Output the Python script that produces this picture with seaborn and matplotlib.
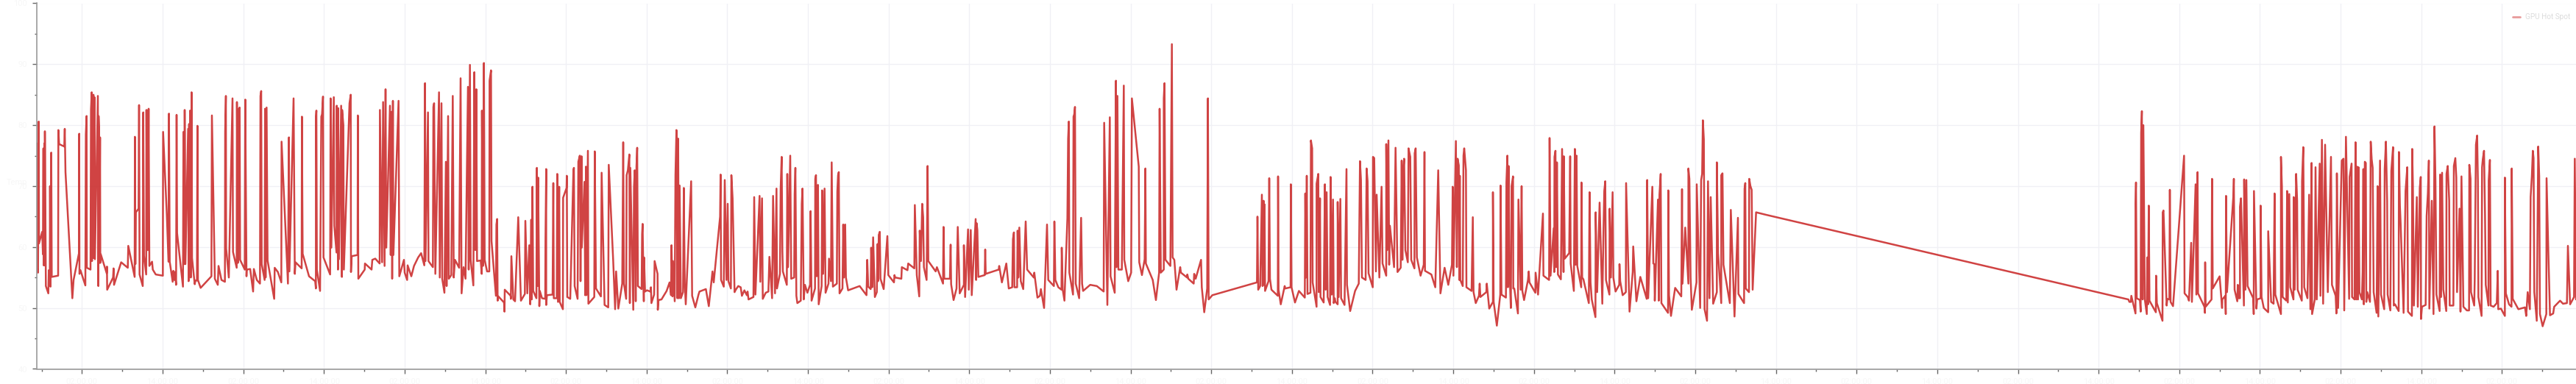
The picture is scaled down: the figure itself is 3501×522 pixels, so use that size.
import numpy as np
import pandas as pd
import matplotlib
matplotlib.use("Agg")
import matplotlib.pyplot as plt
import seaborn as sns

session_starts = [0, 1200, 2100, 3000, 3900, 5100, 6000, 8640, 9600]

t_a = [151,151,155,158,159,172,175,177,178,181,182,183,187,197,199,203,204,206,209,211,
237,238,241,262,264,267,295,300,322,323,324,328,348,350,353,354,369,371,374,375,
381,382,385,387,399,401,402,404,405,408,409,411,435,436,437,461,463,465,494,521,
523,549,550,552,554,565,567,569,582,584,587,596,597,600,602,603,606,609,620,623,
635,664,665,680,687,689,692,704,707,711,713,718,720,722,746,748,752,753,756,767,
769,771,773,775,778,781,783,794,797,803,805,807,818,862,864,876,888,891,903,917,
918,921,922,933,948,950,965,966,970,972,977,979,998,1000,1005,1006,1020,1032,1035,1047,
1060,1062,1065,1067,1079,1081,1083,1087,1091,1118,1120,1133,1147,1148,1174,1178,1180,1197]
v_a = [77,56.8,55.8,80.6,60.6,62.5,58.8,76.2,57,77,57,79,53.6,52.4,56.2,54.6,70,53.5,75.5,55.1,
55.3,79.2,76.9,76.5,79.4,72.3,51.6,54.6,59,78.6,55.6,56.2,53.7,78.5,81.5,56.6,56.3,82.6,85.4,57.7,
85,58.2,84.6,58,84.8,53.6,81.5,79.2,57.4,78,57.4,58.8,55.7,56.8,53,55,56.5,53.8,57.5,56.6,
60.2,55.1,78.1,57.2,65.7,66.3,83.3,55.5,53.6,82.1,58.6,55.5,82.5,59.5,82.4,59.5,82.7,56.9,57.6,56.3,
55.5,55.3,78.9,65.5,57.6,81.9,57.6,54.3,56.1,54.6,55.9,53.8,81.7,62.3,53.5,78.9,57.2,82.5,57.2,79.4,
54.4,80.2,61.7,82.4,55,85.4,58.2,53.9,54.5,54.5,79.9,54.6,53.3,55.2,81.6,54.8,53.8,56.9,54.6,54.3,
78.9,84.8,59.8,55,84.4,59.2,56.6,83.8,57.4,82.5,82.9,57.9,56.3,84.2,55.2,56.3,56.4,52.7,56.4,54.6,
54,84.8,85.6,57.2,54.6,82.7,55,82.9,57.8,51.5,56.6,55.9,54.2,77.3,54,78,56,84.4]

t_b = [2,5,30,31,34,60,85,88,88,90,92,105,110,113,117,119,146,148,151,161,
163,172,173,178,179,182,191,194,195,200,202,225,230,231,234,258,259,261,287,288,
315,318,330,348,349,358,362,368,372,375,390,393,397,399,402,404,425,428,447,450,
460,462,477,488,505,517,530,533,535,545,547,565,567,570,575,590,593,600,603,612,
618,621,627,630,640,646,650,655,672,678,682,690,698,708,711,716,719,730,734,738,
742,745,760,764,765,769,773,776,786,795,796,802,804,822,824,827,829,832,855,857,
858,882,883,885,893,900]
v_b = [55.6,57.5,56.5,81.4,58.9,55.2,54.4,53.2,81.2,82.4,56.3,52.8,81.4,81.8,84.7,58.3,55.5,84.4,59.9,84.6,
63.5,59.1,83.2,56.3,82.8,58,83.2,55.1,82.5,80,56.3,83.6,85,55.9,58.5,58.7,81.6,54.8,56.3,57.3,
56.3,57.9,58.1,57.3,82.5,57.5,83.8,56.9,85.9,59.9,83.2,58.7,82.2,54.8,84,58.7,84,55.2,57.9,55.8,
54.6,57,55.2,56.9,58.3,59,57,86.9,57.7,82.1,57.7,56.7,83,83.6,55.6,85.4,55,83.6,54.8,52.5,
74,53.6,81.5,54.8,55.4,84.8,55,57.9,56.6,87.7,52.4,56.7,54.8,86.3,56.3,89.9,57.9,53.7,88.7,59.5,
85.9,57.7,57.8,55.6,82.4,56.9,90.2,57.9,56,56,87.3,89,61,52,63.7,64.6,51.2,51.9,50.9,49.4,
53,52,51.5,58.5,51.4,51.1]

t_c = [10,13,24,40,42,50,58,62,66,68,71,74,87,89,92,94,99,101,110,123,
124,127,127,130,153,156,158,170,172,175,180,182,195,196,210,211,213,225,238,240,
243,255,258,264,267,271,272,283,286,289,291,297,299,323,325,330,350,353,365,380,
382,400,408,412,421,437,441,444,453,455,460,466,468,470,482,485,488,492,495,498,
501,516,518,520,525,526,530,538,552,554,556,567,569,581,582,585,597,618,630,636,
638,642,644,651,654,658,662,665,668,671,676,685,688,692,696,716,718,722,735,748,
752,778,790,805,810,836,838,840,851,855,862,867,870,880,882,887,895,900]
v_c = [61.7,64.9,51.2,52.3,64.3,52.4,60.3,50.6,64.5,51.4,69.9,52.8,51.6,73,53.6,71.4,50.3,52.8,51.6,51.5,
60.9,72.8,50.5,52.1,52.2,70.5,51.6,51.6,72,51,69.9,51,49.8,68.1,69.7,71.7,51.8,51.5,72.6,73,
53.6,51.5,74,75,54.4,74.9,59.9,70.7,52.1,73.2,52.1,75.8,50.7,51.8,75.7,53.2,51.9,72.2,50.5,50.1,
73.5,57.9,49.8,56,49.9,54,77.2,54,51.5,71.8,72.6,75.2,50.8,73,49.7,69.9,72.6,51.1,73.2,76.3,
53.6,53.1,62.1,63.8,51.1,58.3,52.7,52.9,52.7,53.4,50.8,52.2,57.7,55.6,49.7,51.3,51.4,52.8,54.2,52.1,
60.3,51.9,57.7,51.1,71.8,79.2,51.6,77.8,51.6,70.1,51.6,52.6,69.7,54,50.6,69.1,70.8,52,50.1,52.2,
52.7,53.1,50.3,56,54.2,65,71.9,54.6,53.5,71,54.6,67.1,54.4,53.2,71.8,68,52.6,53]

t_d = [10,20,25,35,45,48,52,72,75,80,97,100,107,110,122,133,137,148,152,160,
166,168,180,183,187,190,192,208,210,213,222,226,238,240,243,247,251,265,269,272,
277,282,292,303,305,309,323,324,327,330,335,338,350,352,356,362,366,378,380,388,
391,396,412,414,417,420,423,435,438,441,446,449,458,505,533,536,540,550,552,556,
560,567,575,578,580,583,587,590,603,618,622,645,647,650,675,677,700,703,728,730,
738,748,750,755,760,764,767,778,782,785,815,820,845,847,850,873,876,878,888,900]
v_d = [53.6,53.4,52,52.9,52.1,52.7,51.4,51.8,68.2,52.2,68.4,54.3,68,51.5,52.5,52.7,58.4,51.6,68.4,52.4,
69.6,53.2,55.6,69.7,74.8,59.3,56,53.8,72,56.7,75,54.8,55,68.7,73,52,50.8,51.2,67.1,69.6,
51.4,53.8,52.5,53.8,65.9,51.2,53.2,71.2,71.8,55.2,70.2,50.6,53.6,69.3,55.6,69.6,52.5,54,58.1,54.4,
73.9,53.5,54,69.1,71.8,72.3,52.4,53.2,63.7,55,63.7,55,52.9,53.6,52.1,57.9,53.5,53.1,59.9,53.4,
61.6,51.8,52.6,60.5,54.4,62,62.5,54.8,53.1,61.8,55.4,54.2,55.4,55,54.8,56.7,56.2,57.3,56.5,66.9,
55.4,51.9,62.7,57.7,67.1,64.9,56.7,54.6,73.3,57.7,56,56.7,54,63.3,54.8,54.8,60.4,53.9,51.3,53.2]

t_e = [5,13,30,30,35,47,50,58,62,78,80,82,85,89,115,117,119,172,174,185,
203,213,227,230,234,236,247,249,252,256,262,272,282,288,315,317,330,340,344,357,
369,374,397,399,403,415,428,429,433,440,452,455,458,460,475,477,480,483,486,500,
508,512,516,545,572,600,602,615,625,628,645,650,652,656,660,674,682,684,700,712,
715,743,745,756,767,770,772,800,813,826,828,833,845,845,848,852,872,878,881,888,
897,912,915,940,941,945,967,969,975,997,1000,1010,1022,1025,1028,1043,1200]
v_e = [63.3,52.4,53.8,60.3,51.8,62.9,53,62.8,52.1,64.6,54.6,63.9,62.8,55.1,55.4,59.6,55.6,56.3,56.9,54.2,
57.3,53.2,53.4,61.3,62.4,53.4,53.4,62.7,55,63.2,54.4,53.1,64.2,56.3,55,55.8,51.7,52,53.1,50,
63.7,54.6,53.6,64.2,54.6,53.4,53,59.9,53,51.2,64.7,77.8,80.6,55.8,52.2,81.4,81.8,83,54,51.6,
64.8,54,52.8,53.8,53.6,52.7,80.4,50.5,81.3,55.2,52.5,87.3,56.7,84.8,56.3,56.3,86.5,57.9,54.4,55.8,
84.4,73.2,57.5,55.4,58,72.9,57.3,54.6,51.3,55.8,82.7,55.8,56.3,84.4,86.9,57.9,56.9,93.3,58.3,57.9,
53,56.7,55.8,55,55.5,54.8,54,55.6,54.8,57.9,53.4,49.3,53.2,84.4,51.4,52.1,53.9]

t_f = [25,27,30,38,45,48,52,53,56,58,72,75,78,84,110,111,113,122,138,140,
162,163,166,180,196,220,222,225,228,231,243,245,250,252,268,268,275,277,282,284,
297,302,305,309,313,323,325,330,335,338,342,345,354,354,358,365,368,382,390,392,
405,425,440,445,449,453,468,472,476,480,497,498,503,510,513,524,533,537,552,552,
556,561,564,567,584,590,598,611,615,618,622,625,630,640,643,650,654,667,668,672,
677,692,705,708,710,736,752,764,773,790,805,820,823,826,836,840,843,848,850,852,
854,864,867,870,877,879,900]
v_f = [54.2,65,53,53.6,68.6,53.6,67.6,53.8,67,52.8,54.4,71.3,54.8,53,52,71.6,53,50.6,53.6,53.2,
53.4,70.3,53.4,50.9,52.8,51.7,68.8,55,71.7,52.3,52.5,77.5,76.2,54.2,50.2,70.4,72,52.6,68,51.8,
50.9,70.3,53,69,51.8,50.5,71.5,52.2,67.8,50.8,51.6,51,50.6,67.4,51.8,67.9,51.6,50.5,72.8,53.8,
49.5,52.8,54,74.1,71,55,54.6,72.9,70.8,55.7,53.4,74.8,74.6,56,68.6,55,69.9,57.3,55.3,76.9,
59.5,77.5,57.1,63.5,56.7,76.3,55.9,56.6,74.2,57.9,72.6,74.5,59.5,57.5,76.2,74.8,57.9,56.5,75.4,76.2,
58.3,55.3,57.1,75.6,56.1,55.5,53.4,72.6,52.4,56.6,53.8,57.1,69.9,55.3,77.4,56.7,74.5,73.4,54.6,71.7,
54.6,53.6,75,76.2,72.6,53.4,52.8]

t_g = [5,8,17,30,33,36,60,62,72,87,87,90,103,117,118,122,140,142,146,148,
151,154,160,163,169,170,174,189,191,200,204,207,214,230,233,236,260,261,271,291,
293,316,318,322,335,337,338,342,345,348,352,364,369,375,376,380,398,402,404,417,
421,424,428,431,447,448,451,456,478,481,485,490,505,506,512,522,533,538,541,545,
548,562,563,568,575,578,587,602,603,606,616,629,630,644,657,659,672,688,714,716,
720,737,741,745,747,760,763,766,771,774,801,802,805,813,830,855,858,860,871,884,
884,888,893,898,917,918,932,936,940,943,947,950,960,964,970,975,985,1000,1000,1005,
1018,1018,1023,1027,1053,1057,1072,1086,1088,1111,1113,1116,1118,1131,1132,1137,1142,1146,1160,1200]
v_g = [64.9,52.6,50.8,52,54,51.8,52.6,54,49.9,51,69,51,47.1,52.2,70.1,52.2,51.7,70.6,75,53.4,
73.3,57.3,50,70,71.6,53.2,53.2,49.1,67.8,53,70,52.8,51.3,54.6,56,54.2,52.5,55.8,52.2,65.5,
55.3,54.6,77.9,55.3,63.1,55.9,74.8,75.8,56.7,73.9,55.5,54.7,76.1,55.9,74.9,58.1,59,74.9,57.3,52.8,
76.1,57.1,75,56.9,53.4,70.6,55,54.7,50.8,69,54.2,51.4,48.5,65.7,52.6,67.3,50.7,63,69.2,70.8,
54.6,52.2,66.3,55,69,55,52.7,53.8,57.2,54.4,52.1,52.6,70.5,49.4,55.9,60.1,51.1,55.1,51.5,71,
51.6,69.9,57.3,57.2,51.2,67.8,51.2,68.6,72,50.8,49.2,69.3,52.1,48.7,53.3,51.9,69.5,54,63.2,54,
72.9,71.2,55,49.7,54.2,70.3,50,71,72,80.8,77.7,49.8,47.9,70.8,51.6,68.2,50.7,52.6,73.9,59,
50.8,71.8,72.1,57.1,50.8,66.1,48.6,64.8,52.3,50.8,69.6,70.5,53.2,52.6,71.2,70,69.4,53,65.7,65.3]

t_h = [38,42,48,50,67,67,69,72,85,88,90,93,96,99,105,113,115,118,121,124,
150,151,154,177,178,181,194,197,205,207,210,220,265,267,280,285,287,294,297,312,
315,320,322,348,350,351,353,377,379,382,410,420,421,433,435,436,440,466,468,471,
482,484,487,493,493,497,509,510,515,519,524,547,549,550,560,563,577,577,581,590,
608,608,620,630,634,637,660,660,664,667,682,685,688,694,698,711,712,716,722,726,
728,745,746,751,755,768,775,780,785,787,798,801,806,818,821,827,832,840,851,864,
868,883,886,888,893,908,915,918,925,938,940,948,950,960]
v_h = [51.4,51,51,52,49.1,67.1,70.6,51.6,51.3,49.4,78.7,82.3,51.4,80,51.4,49,58.3,50.6,66.8,51.2,
49.3,55.3,50.8,47.9,65.7,66,50.4,51.5,51.4,69.4,51,50.3,75,52.4,51.8,51.2,53.2,60.7,51,70.3,
52.2,72.3,52.4,50.2,49.2,57.5,50.2,51.4,71.2,53.2,55.2,50,51.4,52,49,68.4,52.6,68.4,71.2,53,
51.1,53.8,51.6,51.6,66.6,68,50.4,71.1,53,71,53.6,51.6,49,69.2,49.9,51.4,51.6,66.8,51.8,50,
49.3,62.6,51,50.7,68.8,52.2,49,74.8,69.9,51.8,51.2,69.2,50.9,68.7,53.4,51.4,68.2,53,72,67.6,
53,51.2,70.8,76.4,53.4,51.6,68.6,49.8,73.8,49,51.4,73.1,51.4,73.7,52,77.6,50.7,76.8,52.6,74.8,
53.8,52,49.1,72.1,50,74.2,74.5,49.6,78.1,51.5,71.5,73.7,51.8,51.4]

t_i = [4,7,10,14,16,20,30,33,36,38,42,46,48,52,63,66,70,74,78,90,
94,97,104,108,121,123,128,133,135,146,150,157,160,165,180,181,185,188,200,208,
215,218,234,235,238,242,254,258,266,270,271,275,290,294,299,303,305,315,322,326,
330,334,347,349,353,357,362,374,375,380,386,388,403,405,411,415,418,428,432,436,
441,444,458,467,468,473,475,488,490,495,500,503,505,518,520,523,528,532,535,546,
547,552,555,567,580,584,586,597,613,613,617,630,640,641,645,668,695,700,706,715,
718,723,727,730,733,743,749,753,756,767,782,783,790,797,810,814,838,850,866,870,
879,895,898,903]
v_i = [77.2,51.4,73.2,51.4,73.1,52.6,51.4,55.9,72.8,50.6,74,73.8,51,52.6,51,77.3,74.4,73,52.6,49.2,
70,48.6,74.2,52.2,49.8,72.8,77.3,67.6,52.2,49.6,72.5,76.4,50.4,50.6,49.5,75.6,66.8,63.9,49.2,69.2,
73.1,49.4,48.7,76.1,70.2,50.4,68.2,50.2,69.7,71.5,48.2,50.2,50.5,65.1,68.8,74.2,49.9,67.6,49,79.8,
70.8,52.2,49.5,71.9,51.8,72.2,53,49.5,72,73.3,67.6,50.4,50.4,73.3,74.6,71.4,52.6,66.3,49.4,71.6,
58,50.2,49.6,49.6,73.5,71.2,52.6,50.4,54.6,76.8,78.3,70.8,51.8,48.7,73.1,74.4,75.8,65.4,53.8,50.4,
70.9,74.3,50.4,50.2,50.8,56.1,49.8,49.9,48.7,71.4,52.4,50.6,50.2,72.9,51.5,49.8,50.1,48.7,52.6,49.8,
68.2,71.6,75.8,74.6,52.6,47.9,76.5,71.6,49,47,49,71.3,59.5,48.8,49.1,50.2,51.2,50.7,50.8,60.2,
50.6,51.8,74.5,51.4]

elapsed = [t_a, t_b, t_c, t_d, t_e, t_f, t_g, t_h, t_i]
temps = [v_a, v_b, v_c, v_d, v_e, v_f, v_g, v_h, v_i]
series_name = "GPU Hot Spot"
y_major = [40, 50, 60, 70, 80, 90, 100]
x_labels = ["02:00:00", "14:00:00", "02:00:00", "14:00:00"]

time = np.concatenate([s + np.array(t, dtype=float) for s, t in zip(session_starts, elapsed)])
temp = np.concatenate([np.array(v, dtype=float) for v in temps])
df = pd.DataFrame({"time": time, "temp": temp, "series": series_name})

sns.set_theme(style="white")
plt.rcParams["font.family"] = ["Roboto", "DejaVu Sans"]

W, H = 3501, 522
fig = plt.figure(figsize=(W / 100, H / 100), dpi=100, facecolor="white")
ax = fig.add_axes([49.5 / W, (H - 501.5) / H, (W - 49.5) / W, (501.5 - 4.5) / H])

sns.lineplot(data=df, x="time", y="temp", hue="series", palette=["#cc3333"], sort=False,
             estimator=None, errorbar=None, lw=1.8, alpha=0.92, ax=ax)

ax.set_xlim(148.5, 10503)
ax.set_ylim(y_major[0], y_major[-1])

major_x = np.arange(334, 10503, 328.9)
minor_x = np.arange(334 - 164.45, 10503, 328.9)
ax.set_xticks(major_x)
ax.set_xticks(minor_x, minor=True)
ax.set_xticklabels([x_labels[i % 4] for i in range(len(major_x))], color="#f7f7f7", fontsize=8)
ax.set_yticks(y_major)
ax.set_yticks(np.arange(45, 100, 10), minor=True)
ax.set_yticklabels([str(v) for v in y_major], color="#f7f7f7", fontsize=8)
ax.tick_params(axis="both", which="major", length=4, width=1, color="#666666", left=True, bottom=True, pad=5)
ax.tick_params(axis="both", which="minor", length=2.4, width=1, color="#666666", left=True, bottom=True)
ax.grid(True, which="major", color="#f0f0f5", lw=1)
ax.set_axisbelow(True)
for side in ("top", "right"):
    ax.spines[side].set_visible(False)
for side in ("left", "bottom"):
    ax.spines[side].set_color("#9a9a9a")
    ax.spines[side].set_linewidth(1.2)
ax.set_xlabel("")
ax.set_ylabel("Temp", rotation=0, color="#f7f7f7", fontsize=8)
ax.yaxis.set_label_coords(-27 / (W - 49.5), 0.5)

leg = ax.legend(loc="upper right", frameon=False, fontsize=7.2, handlelength=1.0, handletextpad=0.7,
                borderaxespad=0, bbox_to_anchor=(1 - 4 / (W - 49.5), 1 - 10 / 497))
for line in leg.get_lines():
    line.set_color("#e89a9a")
    line.set_alpha(1)
    line.set_linewidth(2)
for text in leg.get_texts():
    text.set_color("#dcdcdc")

fig.savefig("out.png", dpi=100, facecolor="white")
